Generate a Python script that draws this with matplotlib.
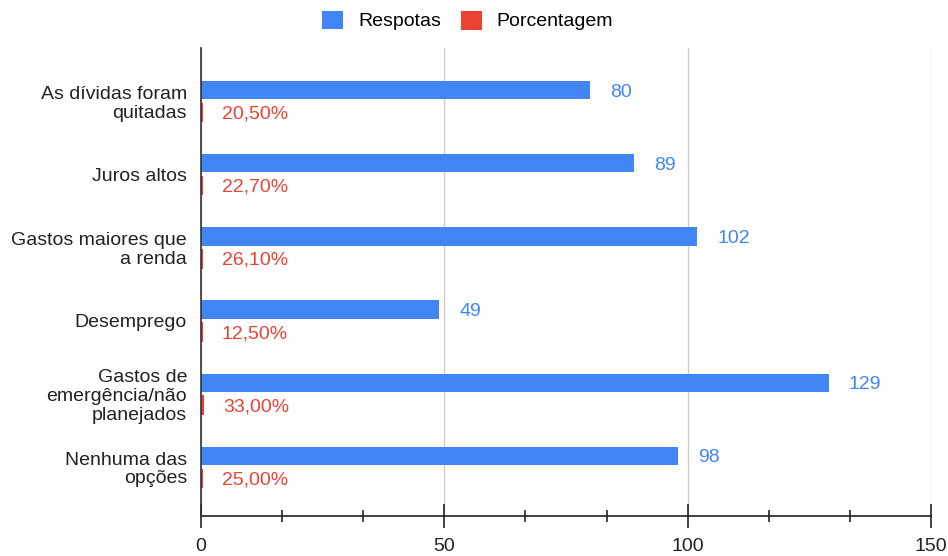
import matplotlib
matplotlib.use("Agg")
import matplotlib.pyplot as plt
import numpy as np
from matplotlib.ticker import MultipleLocator

plt.rcParams['font.family'] = ['Liberation Sans', 'DejaVu Sans']

categories = ["As dívidas foram\nquitadas", "Juros altos", "Gastos maiores que\na renda",
              "Desemprego", "Gastos de\nemergência/não\nplanejados", "Nenhuma das\nopções"]
respostas = [80, 89, 102, 49, 129, 98]
porcentagem = [0.205, 0.227, 0.261, 0.125, 0.330, 0.250]
porcentagem_labels = ["20,50%", "22,70%", "26,10%", "12,50%", "33,00%", "25,00%"]
xticks = [0, 50, 100, 150]

BLUE = "#4285F4"
RED = "#EA4335"

fig = plt.figure(figsize=(9.48, 5.56), dpi=100)
ax = fig.add_axes([201/948, 40/556, 730/948, 468/556])

y = np.arange(len(categories))
h = 0.25
off = 0.15
b1 = ax.barh(y - off, respostas, height=h, color=BLUE, label="Respotas", zorder=3)
b2 = ax.barh(y + off, porcentagem, height=h, color=RED, edgecolor=RED, linewidth=0.8,
             label="Porcentagem", zorder=3)

for yi, v in zip(y, respostas):
    ax.annotate(str(v), (v, yi - off), xytext=(14.5, 0), textcoords="offset points",
                va="center_baseline", ha="left", color=BLUE, fontsize=14)
for yi, v, lab in zip(y, porcentagem, porcentagem_labels):
    ax.annotate(lab, (v, yi + off), xytext=(14.5, 0), textcoords="offset points",
                va="center_baseline", ha="left", color=RED, fontsize=14)

ax.set_xlim(0, 150)
ax.set_ylim(len(categories) - 0.327, -0.727)
ax.set_yticks(y)
ax.set_yticklabels(categories, fontsize=14, linespacing=1.13, color="#222222",
                   multialignment="right")
ax.tick_params(axis="y", length=0, pad=10)

ax.set_xticks(xticks)
ax.set_xticklabels([str(t) for t in xticks], fontsize=14, color="#222222")
ax.xaxis.set_minor_locator(MultipleLocator(50/3))
ax.tick_params(axis="x", which="major", direction="inout", length=17, width=1.2, color="#222222", pad=7)
ax.tick_params(axis="x", which="minor", direction="inout", length=9, width=1.2, color="#222222")

ax.grid(axis="x", which="major", color="#cccccc", linewidth=1, zorder=0)
for s in ["top", "right"]:
    ax.spines[s].set_visible(False)
ax.spines["left"].set_color("#333333")
ax.spines["bottom"].set_color("#222222")
ax.spines["left"].set_linewidth(1.2)
ax.spines["bottom"].set_linewidth(1.2)
ax.spines["left"].set_zorder(4)

fig.legend(handles=[b1, b2], labels=["Respotas", "Porcentagem"], loc="upper center",
           bbox_to_anchor=(0.4935, 1.012), ncol=2, frameon=False, fontsize=14,
           handlelength=1.05, handleheight=1.05, columnspacing=1.0, handletextpad=0.8)

fig.savefig("out.png", dpi=100)
